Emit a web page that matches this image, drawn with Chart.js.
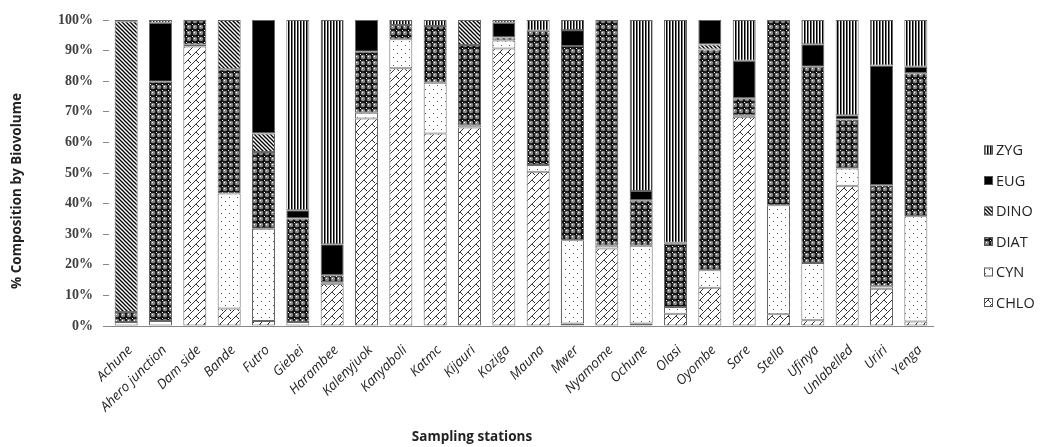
<!DOCTYPE html>
<html>
<head>
<meta charset="utf-8">
<script src="https://cdn.jsdelivr.net/npm/chart.js@4/dist/chart.umd.min.js"></script>
<style>
html,body{margin:0;padding:0;background:#fff;}
#wrap{width:1042px;height:447px;position:relative;}
</style>
</head>
<body>
<div id="wrap"><canvas id="c" width="1042" height="447"></canvas></div>
<script>
const stations = ["Achune","Ahero junction","Dam side","Bande","Futro","Giebei","Harambee","Kalenyjuok","Kanyaboli","Katmc","Kijauri","Koziga","Mauna","Mwer","Nyamome","Ochune","Olasi","Oyombe","Sare","Stella","Ufinya","Unlabelled","Uriri","Yenga"];
const CHLO = [0.2,0,91.3,5.7,1.6,0,13.8,67.8,84.2,62.9,64.9,90.7,50.4,0.8,25.3,0.8,4.0,12.5,68.4,3.8,1.9,45.8,12.2,1.5];
const CYN  = [1.1,1.6,0.6,37.6,30.2,1.3,0.5,1.9,9.5,16.6,0.7,2.6,2.2,27.2,0.9,25.4,2.2,5.7,0.5,35.7,18.7,5.7,0.8,34.4];
const DIAT = [3.3,78.2,8.1,40.6,25.1,33.8,2.3,19.9,4.7,18.5,26.2,1.0,43.9,63.5,73.8,14.9,20.7,72.2,5.5,60.5,64.1,16.0,33.0,46.7];
const DINO = [95.0,0,0,16.1,6.0,0,0,0,0,0,8.2,0,0,0,0,0,0,1.6,0,0,0,0,0,0];
const EUG  = [0,19.3,0,0,37.1,2.7,10.1,10.4,0,0,0,4.8,0,5.2,0,3.0,0.3,8.0,12.3,0,7.4,1.4,39.1,2.1];
const ZYG  = [0.4,0.9,0,0,0,62.2,73.3,0,1.6,2.0,0,0.9,3.5,3.3,0,55.9,72.8,0,13.3,0,7.9,31.1,14.9,15.3];
const yTicks = [0,10,20,30,40,50,60,70,80,90,100];

function makePattern(w,h,draw){
  const cv=document.createElement('canvas'); cv.width=w; cv.height=h;
  const g=cv.getContext('2d'); draw(g,w,h);
  return g.createPattern(cv,'repeat');
}
const pChlo = makePattern(8,8,(g)=>{
  g.fillStyle='#fff';g.fillRect(0,0,8,8);
  g.strokeStyle='#333';g.lineWidth=1;
  g.beginPath();g.moveTo(-1,9);g.lineTo(9,-1);g.stroke();
  g.beginPath();g.moveTo(4,4);g.lineTo(7,7);g.stroke();
});
const pCyn = makePattern(8,8,(g)=>{
  g.fillStyle='#fff';g.fillRect(0,0,8,8);
  g.fillStyle='#555';g.fillRect(1,1,1,1);g.fillRect(5,5,1,1);
});
const pDiat = makePattern(6,6,(g)=>{
  g.fillStyle='#111';g.fillRect(0,0,6,6);
  g.fillStyle='#888';g.beginPath();g.arc(3,3,2.3,0,Math.PI*2);g.fill();
  g.fillStyle='#fff';g.fillRect(0,0,1,1);g.fillRect(2,2,1,1);
});
const pDino = makePattern(4,4,(g)=>{
  g.fillStyle='#fff';g.fillRect(0,0,4,4);
  g.strokeStyle='#000';g.lineWidth=1.3;
  g.beginPath();g.moveTo(-1,-1);g.lineTo(5,5);g.stroke();
  g.beginPath();g.moveTo(3,-1);g.lineTo(5,1);g.stroke();
  g.beginPath();g.moveTo(-1,3);g.lineTo(1,5);g.stroke();
});
const pZyg = makePattern(3,3,(g)=>{
  g.fillStyle='#fff';g.fillRect(0,0,3,3);
  g.fillStyle='#000';g.fillRect(0,0,1,3);
  g.fillStyle='#777';g.fillRect(1,0,1,3);
});

const series = [
  {label:'CHLO',data:CHLO,bg:pChlo},
  {label:'CYN',data:CYN,bg:pCyn},
  {label:'DIAT',data:DIAT,bg:pDiat},
  {label:'DINO',data:DINO,bg:pDino},
  {label:'EUG',data:EUG,bg:'#000'},
  {label:'ZYG',data:ZYG,bg:pZyg}
];

const extras = {
  id:'extras',
  afterDraw(chart){
    const g=chart.ctx, a=chart.chartArea, xs=chart.scales.x;
    g.save();
    // legend (reversed order, ZYG on top)
    g.font='14.5px "Open Sans", sans-serif';
    g.textBaseline='middle';
    const ds=chart.data.datasets;
    for(let i=0;i<ds.length;i++){
      const d=ds[ds.length-1-i];
      const y=150+i*30.5;
      const x=a.right+51;
      g.fillStyle=d.backgroundColor;
      g.fillRect(x,y-4.5,9,9);
      g.strokeStyle='#555';g.lineWidth=1;
      g.strokeRect(x+0.5,y-4,8,8);
      g.fillStyle='#222';
      g.fillText(d.label,x+12,y+1);
    }
    // category labels at 45 degrees
    g.font='italic 13.5px "Open Sans", sans-serif';
    g.fillStyle='#222';
    g.textAlign='right';
    g.textBaseline='middle';
    chart.data.labels.forEach((lab,i)=>{
      const px=xs.getPixelForTick(i);
      g.save();
      g.translate(px+4,a.bottom+22);
      g.rotate(-Math.PI/4);
      g.fillText(lab,0,0);
      g.restore();
    });
    // axis titles
    g.font='bold 13.5px "Open Sans", sans-serif';
    g.fillStyle='#222';
    g.textAlign='center';
    g.fillText('Sampling stations',472,437);
    g.translate(17,191);
    g.rotate(-Math.PI/2);
    g.fillText('% Composition by Biovolume',0,0);
    g.restore();
  }
};

new Chart(document.getElementById('c'),{
  type:'bar',
  data:{
    labels:stations,
    datasets:series.map(s=>({
      label:s.label,data:s.data,backgroundColor:s.bg,
      borderColor:'#666',
      borderWidth:(ctx)=>ctx.raw>0?1:0,
      borderSkipped:false,
      categoryPercentage:1,barPercentage:0.67
    }))
  },
  options:{
    responsive:false,animation:false,
    layout:{padding:{left:0,right:109,top:20,bottom:0}},
    plugins:{legend:{display:false},tooltip:{enabled:false}},
    scales:{
      x:{
        stacked:true,
        grid:{display:false},
        border:{display:true,color:'#888',width:1},
        ticks:{display:false},
        afterFit(s){s.height=121;}
      },
      y:{
        stacked:true,min:0,max:100,
        afterBuildTicks(s){s.ticks=yTicks.map(v=>({value:v}));},
        grid:{display:true,drawOnChartArea:false,drawTicks:true,tickLength:6,color:'#888'},
        border:{display:false},
        ticks:{padding:10,color:'#404040',callback:v=>v+'%',
          font:{family:'"Liberation Serif", serif',weight:'bold',size:14}},
        afterFit(s){s.width=109;}
      }
    }
  },
  plugins:[extras]
});
</script>
</body>
</html>
